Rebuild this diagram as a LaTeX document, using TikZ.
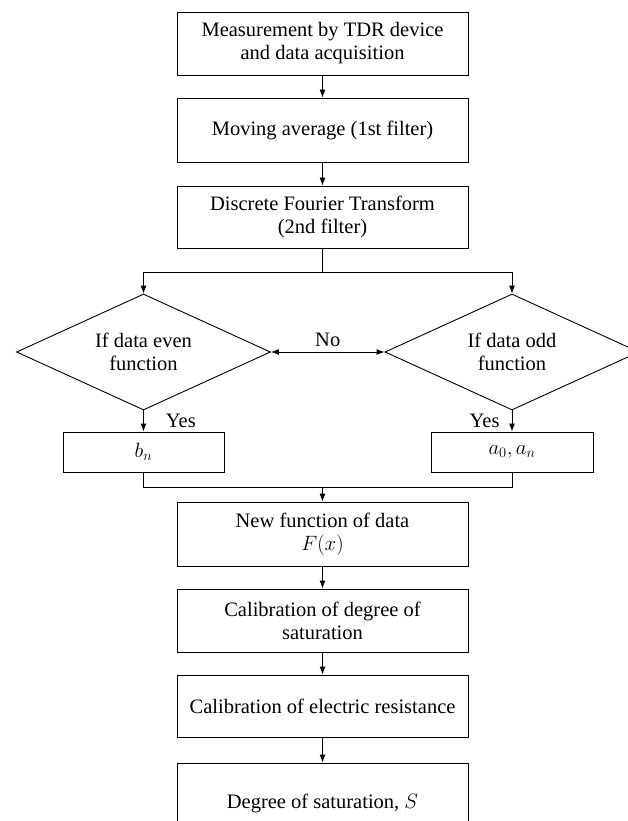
\documentclass[tikz,border=0pt]{standalone}
\usepackage{fontspec}
\setmainfont{Liberation Serif}
\usetikzlibrary{shapes.geometric,arrows.meta}
\begin{document}
\begin{tikzpicture}[x=1pt,y=-1pt,
  every node/.style={font=\fontsize{20.5}{23}\selectfont},
  procbox/.style={draw, line width=0.9pt, minimum width=291pt, align=center, inner sep=0pt},
  smallbox/.style={draw, line width=0.9pt, minimum height=40pt, align=center, inner sep=0pt},
  decision/.style={draw, line width=0.9pt, diamond, aspect=2.2, minimum width=254pt, minimum height=116pt, inner sep=0pt, align=center},
  conn/.style={line width=0.9pt},
  arr/.style={line width=0.9pt, -{Latex[length=8pt,width=6pt]}},
  darr/.style={line width=0.9pt, {Latex[length=8pt,width=6pt]}-{Latex[length=8pt,width=6pt]}},
  lbl/.style={inner sep=2pt}]
\useasboundingbox (0,0) rectangle (627,821);
\node[procbox, minimum height=63pt] (b1) at (322.5,43.5) {Measurement by TDR device\\and data acquisition};
\node[procbox, minimum height=64pt] (b2) at (322.5,130) {Moving average (1st filter)};
\node[procbox, minimum height=62pt] (b3) at (322.5,217) {Discrete Fourier Transform\\(2nd filter)};
\coordinate (split) at (322.5,272);
\node[decision] (d1) at (143.5,352) {If data even\\function};
\node[decision] (d2) at (512,352) {If data odd\\function};
\node[smallbox, minimum width=161pt] (bn) at (143.5,452) {$b_n$};
\node[smallbox, minimum width=162pt] (an) at (512,452) {$a_0, a_n$};
\coordinate (merge) at (322.5,487);
\node[procbox, minimum height=64pt] (nf) at (322.5,534) {New function of data\\$F(x)$};
\node[procbox, minimum height=63pt] (cd) at (322.5,620.5) {Calibration of degree of\\saturation};
\node[procbox, minimum height=62pt] (ce) at (322.5,706) {Calibration of electric resistance};
\node[procbox, minimum height=80pt] (ds) at (322.5,803) {Degree of saturation, $S$};

\draw[arr] (b1) -- (b2);
\draw[arr] (b2) -- (b3);
\draw[conn] (b3.south) -- (split);
\draw[arr] (split) -| (d1.north);
\draw[arr] (split) -| (d2.north);
\draw[darr] (d1.east) -- (d2.west) node[midway, above, lbl, yshift=3pt] {No};
\draw[arr] (d1.south) -- (bn.north) node[midway, right, lbl, xshift=20pt] {Yes};
\draw[arr] (d2.south) -- (an.north) node[midway, left, lbl, xshift=-10pt] {Yes};
\draw[conn] (bn.south) |- (merge);
\draw[conn] (an.south) |- (merge);
\draw[arr] (merge) -- (nf.north);
\draw[arr] (nf) -- (cd);
\draw[arr] (cd) -- (ce);
\draw[arr] (ce) -- (ds);
\end{tikzpicture}
\end{document}
